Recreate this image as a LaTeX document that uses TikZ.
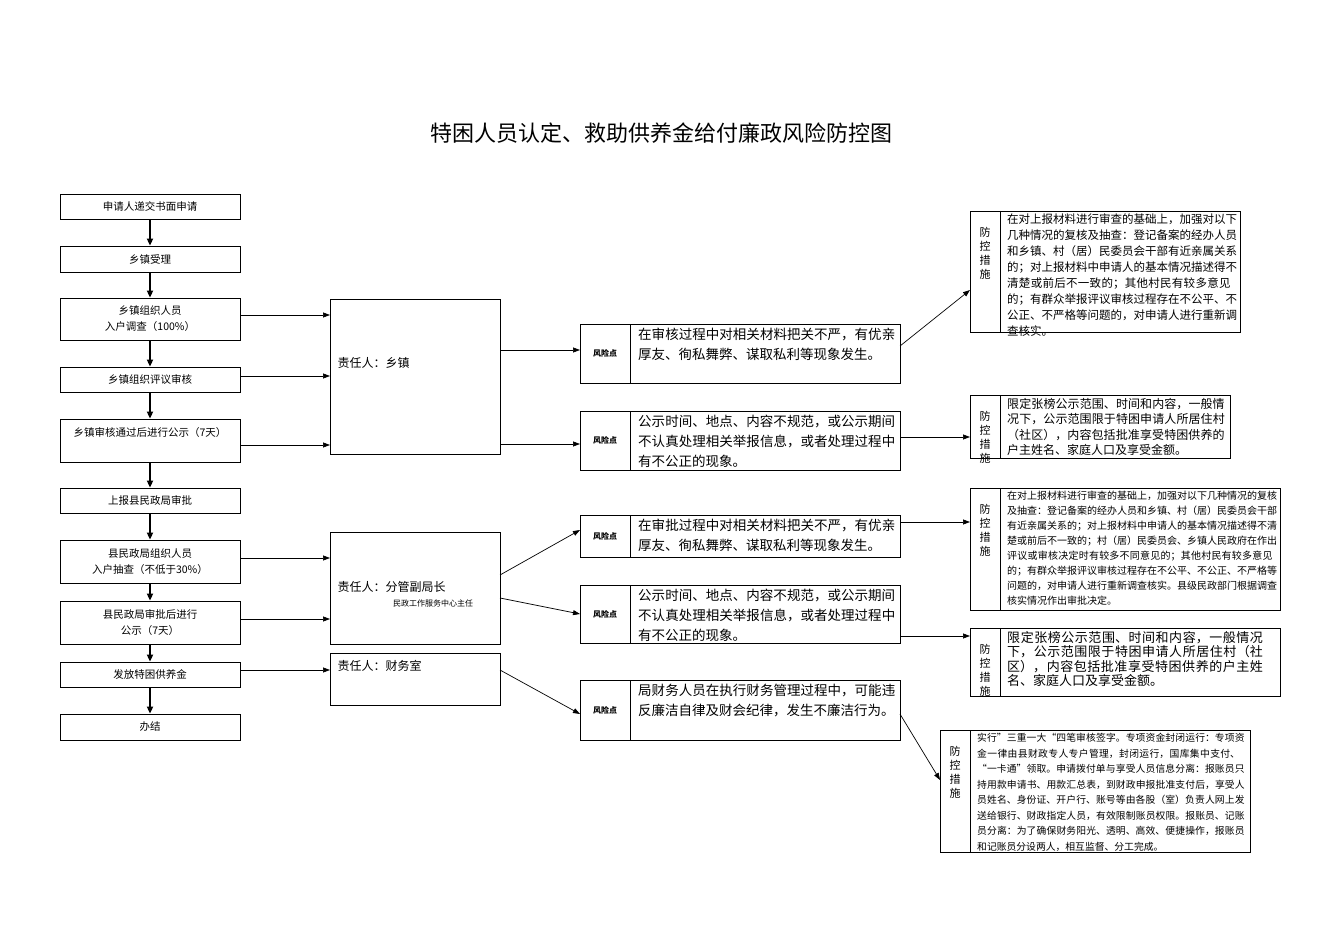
\documentclass[tikz,border=0pt]{standalone}
\usepackage{fontspec}
\setmainfont{Noto Sans CJK SC}
\XeTeXlinebreaklocale "zh"
\XeTeXlinebreakskip=0pt plus 1pt
\usetikzlibrary{arrows.meta}
\tikzset{
 x=1pt,y=-1pt,
 box/.style={draw,line width=0.8pt,inner sep=2pt,align=center,font=\fontsize{10.5}{16}\selectfont},
 lbl/.style={draw,line width=0.8pt,align=center,inner sep=1pt,font=\fontsize{11}{15}\selectfont},
 txt/.style={draw,line width=0.8pt,align=left,inner sep=4pt,anchor=north west},
 flow/.style={-{Triangle[length=7pt,width=6pt]},line width=2pt},
 conn/.style={-{Triangle[length=7pt,width=5pt]},line width=0.7pt},
}
\begin{document}
\begin{tikzpicture}
\useasboundingbox (0,0) rectangle (1323,936);
\node[font=\fontsize{22}{26}\selectfont] (title) at (661,133) {特困人员认定、救助供养金给付廉政风险防控图};
% left column
\def\L#1#2#3#4{\node[box,minimum width=180,minimum height=#3-#2] (#1) at (150,{(#2+#3)/2}) {#4};}
\L{a1}{194}{219}{申请人递交书面申请}
\L{a2}{246}{272}{乡镇受理}
\L{a3}{298}{340}{乡镇组织人员\\入户调查（100\%）}
\L{a4}{367}{392}{乡镇组织评议审核}
\node[box,minimum width=180,minimum height=43,text depth=16pt] (a5) at (150,440.5) {乡镇审核通过后进行公示（7天）};
\L{a6}{488}{513}{上报县民政局审批}
\L{a7}{540}{583}{县民政局组织人员\\入户抽查（不低于30\%）}
\L{a8}{601}{644}{县民政局审批后进行\\公示（7天）}
\L{a9}{662}{687}{发放特困供养金}
\L{a10}{714}{740}{办结}
\foreach \i/\j in {a1/a2,a2/a3,a3/a4,a4/a5,a5/a6,a6/a7,a7/a8,a8/a9,a9/a10}
  \draw[flow] (\i.south) -- (\j.north);
% responsible
\draw[line width=0.8pt] (330,299) rectangle (500,454);
\coordinate (r1) at (330,299);
\node[anchor=west,font=\fontsize{12}{14}\selectfont] (r1t) at (334,363) {责任人：乡镇};
\draw[line width=0.8pt] (330,532) rectangle (500,644);
\node[anchor=west,font=\fontsize{12}{14}\selectfont] (r2t) at (334,587) {责任人：分管副局长};
\node[font=\fontsize{8}{10}\selectfont] (r2s) at (433,603) {民政工作服务中心主任};
\draw[line width=0.8pt] (330,653) rectangle (500,705);
\node[anchor=west,font=\fontsize{12}{14}\selectfont] (r3t) at (334,666) {责任人：财务室};
\foreach \y in {315,376,445} \draw[conn] (240,\y) -- (330,\y);
\foreach \y in {558,619} \draw[conn] (240,\y) -- (330,\y);
\draw[conn] (240,670) -- (330,670);
% risk boxes
\def\K#1#2#3#4{\draw[line width=0.8pt] (580,#2) rectangle (900,#3); \draw[line width=0.8pt] (630,#2) -- (630,#3);
 \node[font=\fontsize{8}{10}\selectfont\bfseries] (#1l) at (605,{(#2+#3)/2}) {风险点};
 \node[anchor=north west,text width=258,align=left,inner sep=0pt,font=\fontsize{13.5}{20}\selectfont] (#1) at (638,{#2+4}) {#4};}
\K{k1}{324}{383}{在审核过程中对相关材料把关不严，有优亲厚友、徇私舞弊、谋取私利等现象发生。}
\K{k2}{411}{470}{公示时间、地点、内容不规范，或公示期间不认真处理相关举报信息，或者处理过程中有不公正的现象。}
\K{k3}{515}{557}{在审批过程中对相关材料把关不严，有优亲厚友、徇私舞弊、谋取私利等现象发生。}
\K{k4}{585}{643}{公示时间、地点、内容不规范，或公示期间不认真处理相关举报信息，或者处理过程中有不公正的现象。}
\K{k5}{680}{740}{局财务人员在执行财务管理过程中，可能违反廉洁自律及财会纪律，发生不廉洁行为。}
\draw[conn] (500,350) -- (580,350);
\draw[conn] (500,444) -- (580,444);
\draw[conn] (500,575) -- (580,530);
\draw[conn] (500,598) -- (580,614);
\draw[conn] (500,670) -- (580,714);
% measures
\def\M#1#2#3#4#5#6#7#8{\draw[line width=0.8pt] (#2,#3) rectangle (#4,#5); \draw[line width=0.8pt] ({#2+30},#3) -- ({#2+30},#5);
 \node[font=\fontsize{11}{14}\selectfont,align=center] (#1l) at ({#2+15},{#3+42}) {防\\控\\措\\施};
 \node[anchor=north west,text width=#4-#2-40,align=left,inner sep=0pt,font=\fontsize{#6}{#7}\selectfont] (#1) at ({#2+37},{#3+3}) {#8};}
\M{m1}{970}{211}{1240}{332}{11.5}{16}{在对上报材料进行审查的基础上，加强对以下几种情况的复核及抽查：登记备案的经办人员和乡镇、村（居）民委员会干部有近亲属关系的；对上报材料中申请人的基本情况描述得不清楚或前后不一致的；其他村民有较多意见的；有群众举报评议审核过程存在不公平、不公正、不严格等问题的，对申请人进行重新调查核实。}
\M{m2}{970}{395}{1230}{458}{12}{15.5}{限定张榜公示范围、时间和内容，一般情况下，公示范围限于特困申请人所居住村（社区），内容包括批准享受特困供养的户主姓名、家庭人口及享受金额。}
\M{m3}{970}{488}{1280}{610}{10}{15}{在对上报材料进行审查的基础上，加强对以下几种情况的复核及抽查：登记备案的经办人员和乡镇、村（居）民委员会干部有近亲属关系的；对上报材料中申请人的基本情况描述得不清楚或前后不一致的；村（居）民委员会、乡镇人民政府在作出评议或审核决定时有较多不同意见的；其他村民有较多意见的；有群众举报评议审核过程存在不公平、不公正、不严格等问题的，对申请人进行重新调查核实。县级民政部门根据调查核实情况作出审批决定。}
\M{m4}{970}{628}{1280}{696}{13}{14.5}{限定张榜公示范围、时间和内容，一般情况下，公示范围限于特困申请人所居住村（社区），内容包括批准享受特困供养的户主姓名、家庭人口及享受金额。}
\M{m5}{940}{730}{1250}{852}{9.8}{15.5}{实行”三重一大“四笔审核签字。专项资金封闭运行：专项资金一律由县财政专人专户管理，封闭运行，国库集中支付、“一卡通”领取。申请拨付单与享受人员信息分离：报账员只持用款申请书、用款汇总表，到财政申报批准支付后，享受人员姓名、身份证、开户行、账号等由各股（室）负责人网上发送给银行、财政指定人员，有效限制账员权限。报账员、记账员分离：为了确保财务阳光、透明、高效、便捷操作，报账员和记账员分设两人，相互监督、分工完成。}
\draw[conn] (900,346) -- (970,290);
\draw[conn] (900,437) -- (970,437);
\draw[conn] (900,522) -- (970,522);
\draw[conn] (900,636) -- (970,636);
\draw[conn] (900,714) -- (940,780);
\end{tikzpicture}
\end{document}
